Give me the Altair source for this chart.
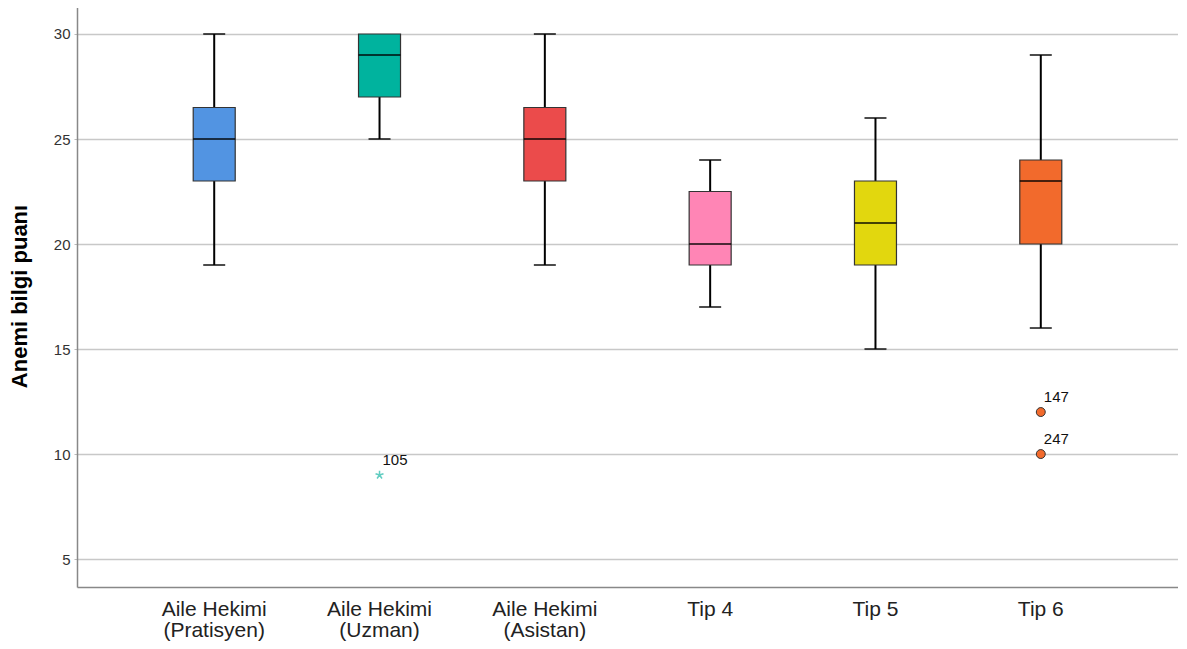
import altair as alt
import pandas as pd

groups = ["Aile Hekimi\n(Pratisyen)", "Aile Hekimi\n(Uzman)", "Aile Hekimi\n(Asistan)", "Tip 4", "Tip 5", "Tip 6"]
mins = [19, 25, 19, 17, 15, 16]
q1s = [23, 27, 23, 19, 19, 20]
medians = [25, 29, 25, 20, 21, 23]
q3s = [26.5, 30, 26.5, 22.5, 23, 24]
maxs = [30, 30, 30, 24, 26, 29]
colors = ["#5294E2", "#00B39E", "#EB4B4B", "#FF85B5", "#E2D70E", "#F26A2C"]

out_groups = ["Aile Hekimi\n(Uzman)", "Tip 6", "Tip 6"]
out_values = [9, 12, 10]
out_labels = ["105", "147", "247"]
out_kinds = ["extreme", "outlier", "outlier"]

df = pd.DataFrame({"g": groups, "mn": mins, "q1": q1s, "med": medians, "q3": q3s, "mx": maxs, "c": colors})
odf = pd.DataFrame({"g": out_groups, "v": out_values, "lab": out_labels, "k": out_kinds})

W, H = 1101, 582
ydom = [3.67, 31.38]

xsc = alt.Scale(domain=groups, paddingInner=0, paddingOuter=0.33)
ysc = alt.Scale(domain=ydom, nice=False, zero=False)
colsc = alt.Scale(domain=groups, range=colors)

x_axis = alt.Axis(title=None, labelExpr="split(datum.label, '\\n')", labelAngle=0,
                  labelFont="Liberation Sans", labelFontSize=21, labelColor="#222222",
                  labelPadding=11, labelLineHeight=21, ticks=False, domainColor="#888888",
                  domainWidth=1.5, grid=False)
y_axis = alt.Axis(title="Anemi bilgi puanı", values=[5, 10, 15, 20, 25, 30],
                  titleFont="Liberation Sans", titleFontSize=22, titleFontWeight="bold",
                  titleColor="#000000", titlePadding=22,
                  labelFont="Liberation Sans", labelFontSize=15, labelColor="#333333",
                  labelPadding=4, tickSize=3, tickColor="#bbbbbb", domainColor="#888888",
                  domainWidth=1.5, grid=True, gridColor="#c8c8c8", gridWidth=1.5)

base = alt.Chart(df)
X = alt.X("g:N", scale=xsc, axis=x_axis, sort=groups)

whisk_lo = base.mark_rule(color="black", strokeWidth=2).encode(
    x=X, y=alt.Y("mn:Q", scale=ysc, axis=y_axis), y2="q1:Q")
whisk_hi = base.mark_rule(color="black", strokeWidth=2).encode(
    x=alt.X("g:N", scale=xsc, sort=groups), y=alt.Y("q3:Q", scale=ysc), y2="mx:Q")
cap_lo = base.mark_tick(color="black", thickness=2, size=22, orient="horizontal").encode(
    x=alt.X("g:N", scale=xsc, sort=groups), y=alt.Y("mn:Q", scale=ysc))
cap_hi = base.transform_filter("datum.mx > datum.q3").mark_tick(
    color="black", thickness=2, size=22, orient="horizontal").encode(
    x=alt.X("g:N", scale=xsc, sort=groups), y=alt.Y("mx:Q", scale=ysc))
box = base.mark_bar(size=42, stroke="#333333", strokeWidth=1.2).encode(
    x=alt.X("g:N", scale=xsc, sort=groups), y=alt.Y("q1:Q", scale=ysc), y2="q3:Q",
    color=alt.Color("g:N", scale=colsc, legend=None))
med = base.mark_tick(color="black", thickness=2, size=42, orient="horizontal").encode(
    x=alt.X("g:N", scale=xsc, sort=groups), y=alt.Y("med:Q", scale=ysc))

obase = alt.Chart(odf)
star = obase.transform_filter("datum.k == 'extreme'").mark_point(
    shape="M0,-1L0,0M0.95,-0.31L0,0M0.59,0.81L0,0M-0.59,0.81L0,0M-0.95,-0.31L0,0",
    filled=False, size=70, strokeWidth=1.5, color="#1FB8A8").encode(
    x=alt.X("g:N", scale=xsc, sort=groups), y=alt.Y("v:Q", scale=ysc))
circ = obase.transform_filter("datum.k == 'outlier'").mark_point(
    shape="circle", filled=True, size=80, fill="#F26A2C", stroke="#333333",
    strokeWidth=1, opacity=1).encode(
    x=alt.X("g:N", scale=xsc, sort=groups), y=alt.Y("v:Q", scale=ysc))
labels = obase.mark_text(align="left", baseline="alphabetic", dx=3, dy=-10,
                         font="Liberation Sans", fontSize=15, color="#111111").encode(
    x=alt.X("g:N", scale=xsc, sort=groups), y=alt.Y("v:Q", scale=ysc), text="lab:N")

chart = alt.layer(whisk_lo, whisk_hi, cap_lo, cap_hi, box, med, star, circ, labels).properties(
    width=W, height=H,
    autosize=alt.AutoSizeParams(type="none"),
    padding={"left": 69, "top": -3, "right": 0, "bottom": 54},
).configure(background="white").configure_view(stroke=None)

chart.save("out.html", embed_options={"renderer": "svg", "actions": False})
